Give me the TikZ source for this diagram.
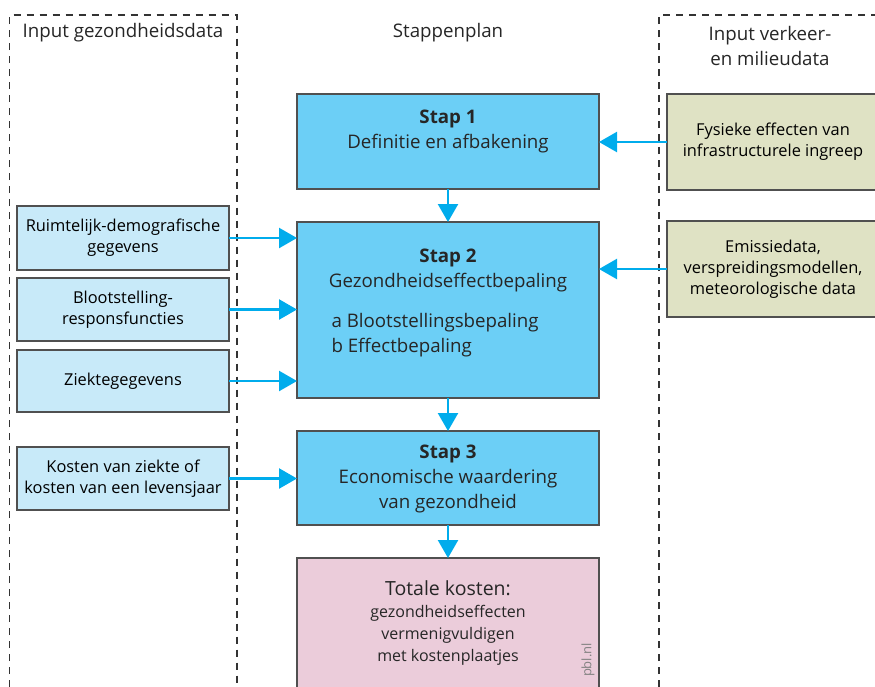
\documentclass[tikz,border=0pt]{standalone}
\usepackage{fontspec}
\setmainfont{Open Sans}
\usetikzlibrary{arrows.meta}
\definecolor{arrowblue}{RGB}{0,172,236}
\definecolor{stapfill}{RGB}{108,207,246}
\definecolor{leftfill}{RGB}{200,234,249}
\definecolor{rightfill}{RGB}{223,226,196}
\definecolor{totfill}{RGB}{235,204,218}
\definecolor{edgegray}{RGB}{80,80,80}
\tikzset{
  box/.style={draw=edgegray, line width=1.2pt, inner sep=0pt, outer sep=0pt},
  stapbox/.style={box, fill=stapfill, minimum width=302pt},
  inbox/.style={box, fill=leftfill, minimum width=212pt, font=\fontsize{16.4}{21}\selectfont, align=center},
  envbox/.style={box, fill=rightfill, minimum width=212pt, minimum height=96pt, font=\fontsize{16.4}{21}\selectfont, align=center},
  staptext/.style={font=\fontsize{18.7}{25}\selectfont, align=center, text=black!85},
  header/.style={font=\fontsize{18.7}{25}\selectfont, align=center, text=black!85},
  flow/.style={draw=arrowblue, line width=2.4pt, -{Triangle[length=18pt,width=20pt]}, shorten >=0pt},
  region/.style={draw=black!80, line width=1.1pt, dash pattern=on 7pt off 6pt},
}
\begin{document}
\begin{tikzpicture}[x=1pt,y=-1pt]
\useasboundingbox (0,0) rectangle (875,686);
\clip (0,0) rectangle (875,686);

% dashed input regions
\draw[region] (9.5,700) -- (9.5,15) -- (237,15) -- (237,700);
\draw[region] (659,700) -- (659,15) -- (890,15);

% column headers
\node[header] (hleft) at (123,33) {Input gezondheidsdata};
\node[header] (hmid) at (448,33) {Stappenplan};
\node[header] (hright) at (770,45.5) {Input verkeer-\\en milieudata};

% main steps
\node[stapbox, minimum height=95pt] (s1) at (448,141.5) {};
\node[staptext] (s1t) at (448,131.5) {\textbf{Stap 1}\\Definitie en afbakening};
\node[stapbox, minimum height=176pt] (s2) at (448,310) {};
\node[staptext] (s2t) at (448,270) {\textbf{Stap 2}\\Gezondheidseffectbepaling};
\node[staptext, align=left, anchor=west] (s2l) at (328,335) {a Blootstellingsbepaling\\b Effectbepaling};
\node[stapbox, minimum height=94pt] (s3) at (448,478) {};
\node[staptext] (s3t) at (448,479) {\textbf{Stap 3}\\Economische waardering\\van gezondheid};
\node[box, fill=totfill, minimum width=302pt, minimum height=150pt] (tot) at (448,633) {};
\node[align=center, text=black!85, font=\fontsize{16}{22}\selectfont] (tott) at (448,623)
  {{\fontsize{19.5}{22}\selectfont Totale kosten:}\\
   gezondheidseffecten\\
   vermenigvuldigen\\
   met kostenplaatjes};
\node[rotate=90, text=black!50, font=\fontsize{13}{14}\selectfont] (pbl) at (588,660) {pbl.nl};

% health inputs
\node[inbox, minimum height=64pt] (r1) at (123,238) {Ruimtelijk-demografische\\gegevens};
\node[inbox, minimum height=63pt] (r2) at (123,309.5) {Blootstelling-\\responsfuncties};
\node[inbox, minimum height=62pt] (r3) at (123,381) {Ziektegegevens};
\node[inbox, minimum height=63pt] (r4) at (123,478.5) {Kosten van ziekte of\\kosten van een levensjaar};

% traffic and environment inputs
\node[envbox] (e1) at (773,142) {Fysieke effecten van\\infrastructurele ingreep};
\node[envbox] (e2) at (773,269) {Emissiedata,\\verspreidingsmodellen,\\meteorologische data};

% connectors
\draw[flow] (s1.south) -- (s2.north);
\draw[flow] (s2.south) -- (s3.north);
\draw[flow] (s3.south) -- (tot.north);
\draw[flow] (r1.east) -- (r1.east -| s2.west);
\draw[flow] (r2.east) -- (r2.east -| s2.west);
\draw[flow] (r3.east) -- (r3.east -| s2.west);
\draw[flow] (r4.east) -- (r4.east -| s3.west);
\draw[flow] (e1.west) -- (e1.west -| s1.east);
\draw[flow] (e2.west) -- (e2.west -| s2.east);
\end{tikzpicture}
\end{document}
